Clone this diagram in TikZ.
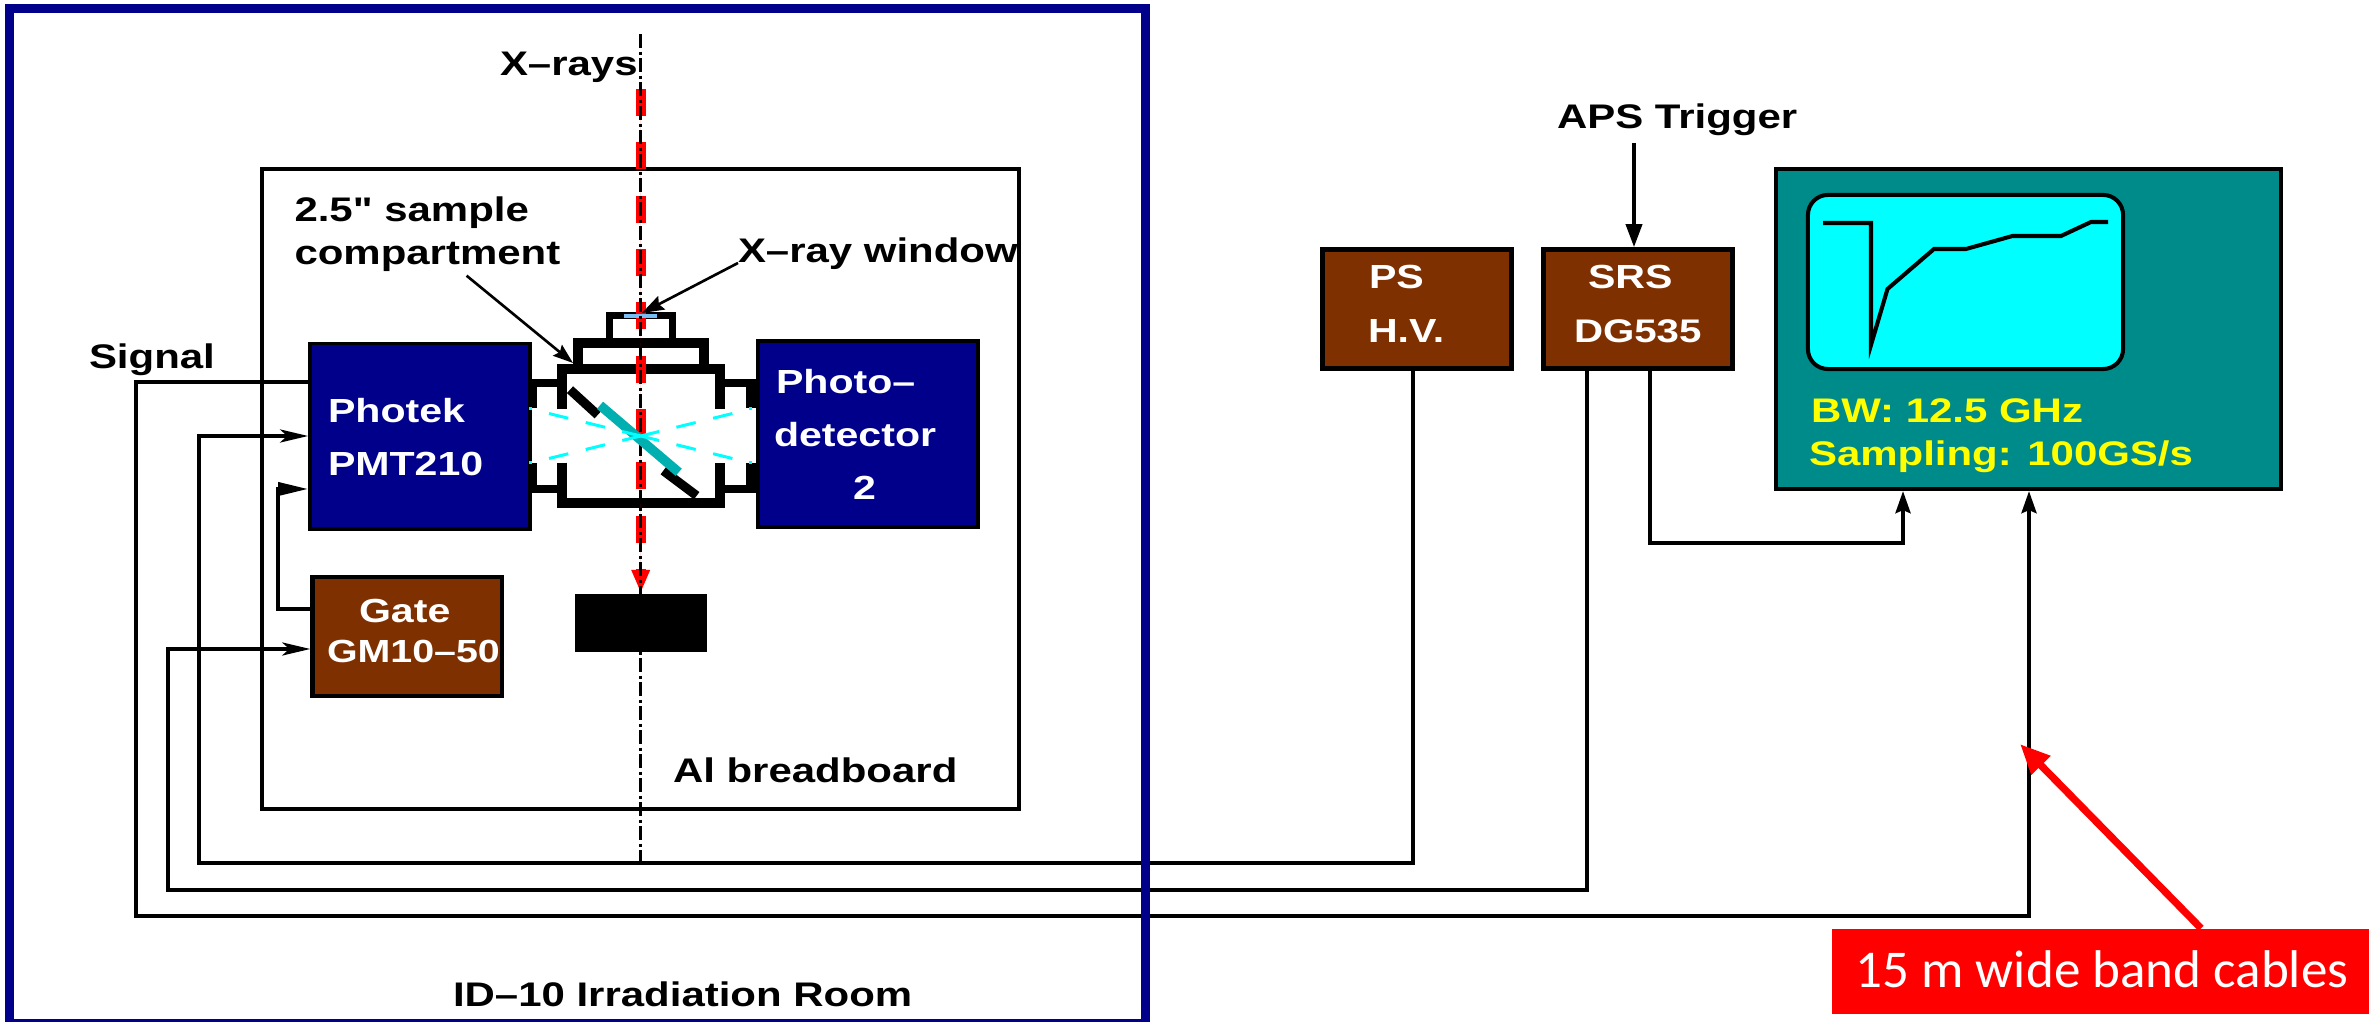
\documentclass[tikz,border=0pt]{standalone}
\usepackage{fontspec}
\usetikzlibrary{arrows.meta}
\newfontfamily\lab{Liberation Sans}[FakeStretch=1.23]
\newfontfamily\calib{Carlito}
\definecolor{dkblue}{RGB}{0,0,139}
\definecolor{brownbox}{RGB}{127,48,0}
\definecolor{scopeteal}{RGB}{0,139,139}
\definecolor{mirrorteal}{RGB}{0,175,175}
\definecolor{winblue}{RGB}{120,190,245}
\definecolor{purecyan}{RGB}{0,255,255}
\definecolor{purered}{RGB}{255,0,0}
\definecolor{pureyellow}{RGB}{255,255,0}
\tikzset{
  unit/.style={x=0.01cm,y=-0.01cm},
  boxbase/.style={draw=black,rectangle,inner sep=0pt},
  bluebox/.style={boxbase,fill=dkblue,line width=1pt},
  brownb/.style={boxbase,fill=brownbox,line width=1.3pt},
  lbl/.style={anchor=base west,inner sep=0pt,outer sep=0pt,font=\lab\bfseries\fontsize{9.7}{11}\selectfont},
  wlbl/.style={lbl,text=white,font=\lab\bfseries\fontsize{9.5}{11}\selectfont},
  ylbl/.style={lbl,text=pureyellow},
  cable/.style={draw=black,line width=1.05pt,miter limit=10},
  barbed/.style={-{Stealth[length=0.28cm,width=0.13cm,inset=0.07cm]}},
  scopetip/.style={-{Stealth[length=0.22cm,width=0.15cm,inset=0.03cm]}},
  wall/.style={draw=black,line width=2.9pt},
  beamline/.style={draw=black,line width=0.75pt,dash pattern=on 0.14cm off 0.035cm on 0.03cm off 0.035cm},
  redbeam/.style={draw=purered,fill=purered,line width=0.1cm,dash pattern=on 0.27cm off 0.263cm,-{Triangle[length=0.23cm,width=0.17cm]}},
  cyanseg/.style={draw=purecyan,line width=0.85pt},
}
\begin{document}
\begin{tikzpicture}[unit]
\useasboundingbox (0,0) rectangle (2369,1022);
\fill[white] (0,0) rectangle (2369,1022);

% breadboard
\node[boxbase,line width=1.2pt,minimum width=7.565cm,minimum height=6.4cm] (board) at (640.75,489) {};

% cable helper coordinates
\coordinate (sigy) at (0,382);
\coordinate (hvy) at (0,436);
\coordinate (gpy) at (0,489);
\coordinate (gouty) at (0,609);
\coordinate (giny) at (0,649);
\coordinate (psx) at (1413,0);
\coordinate (srsl) at (1587,0);
\coordinate (srsr) at (1650,0);
\coordinate (sigx) at (2029,0);
\coordinate (trigx) at (1903,0);
\coordinate (apsx) at (1634,143);
\coordinate (beamtop) at (640.7,34);
\coordinate (beambot) at (640.7,862);
\coordinate (redtop) at (640.7,89);
\coordinate (redtip) at (640.7,593);
\coordinate (wintip) at (642,313);
\coordinate (comptail) at (466.6,275.7);
\coordinate (comptip) at (573,363);
\coordinate (cabletip) at (2020,744);
\coordinate (cabletail) at (2201,0);

% boxes
\node[bluebox,minimum width=2.2cm,minimum height=1.855cm] (pmt) at (420,436.2) {};
\node[bluebox,line width=1.15pt,minimum width=2.2cm,minimum height=1.86cm] (det) at (868,434) {};
\node[brownb,minimum width=1.893cm,minimum height=1.19cm] (gate) at (407.3,636.5) {};
\node[brownb,minimum width=1.89cm,minimum height=1.19cm] (ps) at (1417,309) {};
\node[brownb,minimum width=1.89cm,minimum height=1.19cm] (srs) at (1638,309) {};
\node[boxbase,fill=scopeteal,line width=1.15pt,minimum width=5.05cm,minimum height=3.2cm] (scope) at (2028.5,329) {};
\node[boxbase,fill=purecyan,line width=1.15pt,rounded corners=0.2cm,minimum width=3.15cm,minimum height=1.74cm] (screen) at (1965.5,282) {};
\node[rectangle,fill=black,inner sep=0pt,minimum width=1.317cm,minimum height=0.577cm] (stop) at (640.85,622.85) {};

% trace
\draw[line width=1.15pt,line join=miter,miter limit=12] (1823,223) -- (1871,223) -- (1871,345) -- (1887.5,289) -- (1934,249) -- (1966,249) -- (2012.5,236) -- (2061,236) -- (2091,222) -- (2108,222);

% compartment
\draw[draw=black,line width=2pt] (609.7,338) -- (609.7,315.8) -- (672.3,315.8) -- (672.3,338);
\draw[wall] (577.7,369) -- (577.7,342.8) -- (703.8,342.8) -- (703.8,369);
\draw[wall] (562,409.3) -- (562,369) -- (720,369) -- (720,409.3);
\draw[wall] (562,462.7) -- (562,503) -- (720,503) -- (720,462.7);
\draw[draw=black,line width=2.3pt] (532,382.8) -- (557,382.8);
\draw[draw=black,line width=2.3pt] (532,489.2) -- (557,489.2);
\draw[draw=black,line width=2.3pt] (725,382.8) -- (748,382.8);
\draw[draw=black,line width=2.3pt] (725,489.2) -- (748,489.2);
\fill[black] (532,379) rectangle (536.5,408.3);
\fill[black] (532,462.7) rectangle (536.5,493);
\fill[black] (745.7,379) rectangle (756,408.3);
\fill[black] (745.7,462.7) rectangle (756,493);
\draw[draw=black,line width=2.6pt] (570,389.7) -- (597.7,415);
\draw[draw=black,line width=2.6pt] (663.3,470.7) -- (696.7,495.7);

% x-ray beam
\draw[redbeam] (redtop) -- (redtip);
\draw[draw=winblue,line width=1.1pt] (624,316) -- (657,316);
\draw[beamline] (beamtop) -- (beambot);

% sample
\draw[draw=mirrorteal,line width=2.7pt] (600,405.3) -- (678.7,472.3);

% light cone dashes
\foreach \a/\b in {91.7/72.4,55/35.7,18.4/0}{
  \draw[cyanseg] ({640.7-\a},{436-.245*\a}) -- ({640.7-\b},{436-.245*\b});
  \draw[cyanseg] ({640.7-\a},{436+.245*\a}) -- ({640.7-\b},{436+.245*\b});
  \draw[cyanseg] ({640.7+\a},{436-.245*\a}) -- ({640.7+\b},{436-.245*\b});
  \draw[cyanseg] ({640.7+\a},{436+.245*\a}) -- ({640.7+\b},{436+.245*\b});
}
\foreach \px/\py in {530/409,530/463,750/409,750/463}{
  \fill[purecyan] ({\px-1.5},{\py-1.5}) rectangle ({\px+1.5},{\py+1.5});
}

% cables
\draw[cable,scopetip] (pmt.west |- sigy) -| (136,916) -| (scope.south -| sigx);
\draw[cable,barbed] (ps.south -| psx) |- (199,863) |- (pmt.west |- hvy);
\draw[cable,barbed] (srs.south -| srsl) |- (168,890) |- (gate.west |- giny);
\draw[cable,-{Triangle[length=0.3cm,width=0.13cm]}] (gate.west |- gouty) -| (278,489) -- (pmt.west |- gpy);
\draw[cable,scopetip] (srs.south -| srsr) |- (1903,543) -- (scope.south -| trigx);
\draw[cable,-{Triangle[length=0.23cm,width=0.16cm]}] (apsx) -- (srs.north -| apsx);

% labels
\node[lbl] (xrays) at (500,76) {X–rays};
\node[lbl] (sampa) at (294.5,222) {2.5" sample};
\node[lbl] (sampb) at (294.5,265) {compartment};
\node[lbl] (xwin) at (738,263) {X–ray window};
\node[lbl] (signal) at (89,369) {Signal};
\node[lbl] (boardlab) at (673,783) {Al breadboard};
\node[lbl] (roomlab) at (453,1007) {ID–10 Irradiation Room};
\node[lbl] (apslab) at (1557,129) {APS Trigger};
\node[wlbl] (pa) at (328,423) {Photek};
\node[wlbl] (pb) at (328,476) {PMT210};
\node[wlbl] (ga) at (359,623) {Gate};
\node[wlbl,font=\lab\bfseries\fontsize{9.1}{11}\selectfont] (gb) at (327,663) {GM10–50};
\node[wlbl] (da) at (776,394) {Photo–};
\node[wlbl] (db) at (774,447) {detector};
\node[wlbl] (dc) at (853,500) {2};
\node[wlbl] (psa) at (1369,289) {PS};
\node[wlbl] (psb) at (1368,343) {H.V.};
\node[wlbl] (sa) at (1588,289) {SRS};
\node[wlbl,font=\lab\bfseries\fontsize{9.3}{11}\selectfont] (sb) at (1574,343) {DG535};
\node[ylbl] (sca) at (1811,423) {BW: 12.5 GHz};
\node[ylbl] (scb) at (1809,466) {Sampling: 100GS/s};

% label arrows
\draw[draw=black,line width=0.75pt,-{Stealth[length=0.22cm,width=0.15cm,inset=0.03cm]}] (xwin.base west) -- (wintip);
\draw[draw=black,line width=0.75pt,-{Stealth[length=0.2cm,width=0.14cm,inset=0.03cm]}] (comptail) -- (comptip);

% red call-out
\node[rectangle,fill=purered,inner sep=0pt,minimum width=5.37cm,minimum height=0.85cm] (cables) at (2100.5,971.5) {};
\node[anchor=base west,inner sep=0pt,text=white,font=\calib\fontsize{15.1}{18}\selectfont] (cablestxt) at (1855,988) {15 m wide band cables};
\draw[draw=purered,line width=0.073cm,-{Triangle[length=0.3cm,width=0.25cm]}] (cables.north -| cabletail) -- (cabletip);

% irradiation room frame
\node[rectangle,draw=dkblue,line width=0.09cm,inner sep=0pt,minimum width=11.355cm,minimum height=10.14cm] (room) at (577.5,516) {};
\end{tikzpicture}
\end{document}
